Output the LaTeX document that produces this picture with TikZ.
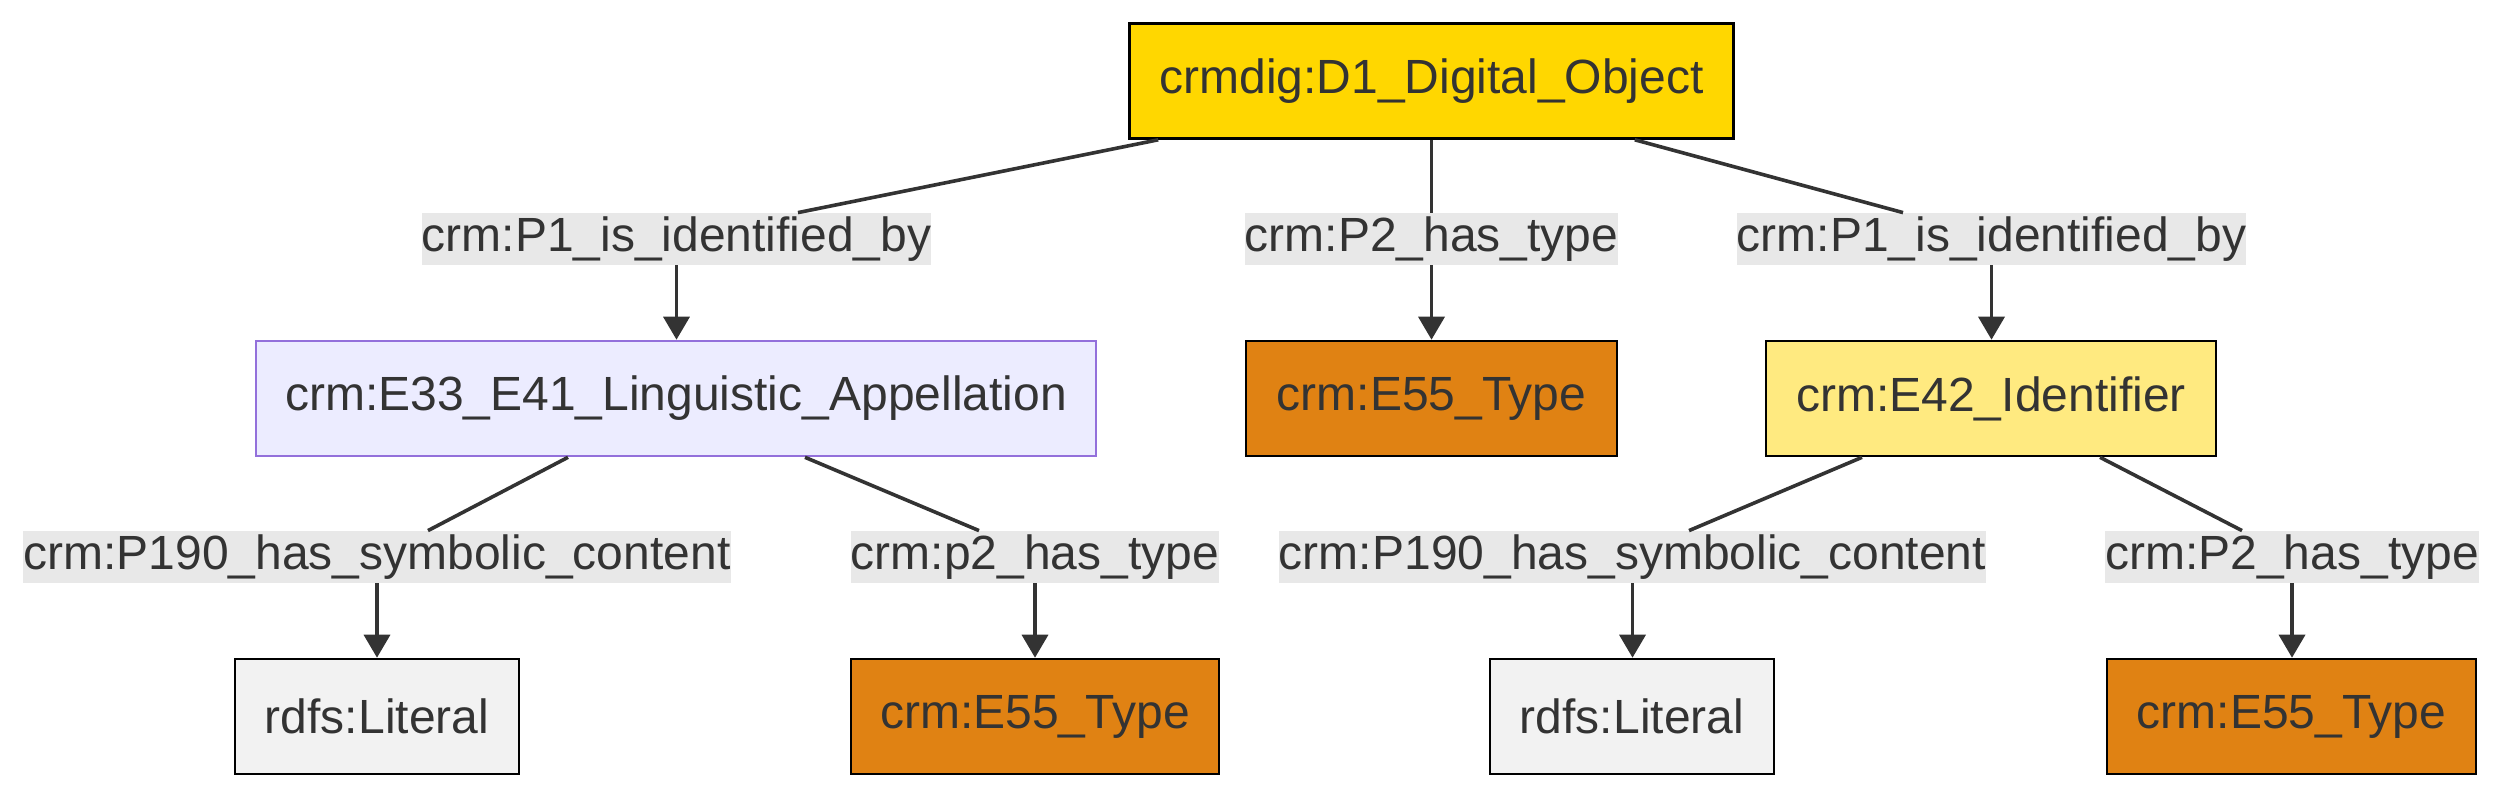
\documentclass[tikz,border=0pt]{standalone}
\usepackage{fontspec}
\setmainfont{Liberation Sans}
\usetikzlibrary{arrows.meta,calc}
\definecolor{txt}{HTML}{333333}
\definecolor{gold}{HTML}{FFD700}
\definecolor{lav}{HTML}{ECECFF}
\definecolor{lavs}{HTML}{9370DB}
\definecolor{typ}{HTML}{E08213}
\definecolor{idf}{HTML}{FFEA80}
\definecolor{lit}{HTML}{F2F2F2}
\definecolor{lbl}{HTML}{E8E8E8}
\begin{document}
\begin{tikzpicture}[x=0.5pt,y=-0.5pt,
  font=\fontsize{24}{28}\selectfont,
  box/.style={draw=black, line width=1.3pt, minimum height=57.5pt, inner sep=0pt, text=txt},
  lab/.style={fill=lbl, inner xsep=0pt, inner ysep=0pt, minimum height=26pt, text=txt},
  edge/.style={draw=txt, line width=1.8pt},
  arr/.style={edge, -{Triangle[length=11.5pt,width=13pt]}}]
\useasboundingbox (0,0) rectangle (2505,798);
\fill[white] (0,0) rectangle (2505,798);

% nodes
\node[box, fill=gold, minimum width=302pt] (top) at (1431.5,81) {crmdig:D1\_Digital\_Object};
\node[box, fill=lav, draw=lavs, minimum width=420pt] (e33) at (676,398.5) {crm:E33\_E41\_Linguistic\_Appellation};
\node[box, fill=typ, minimum width=185.5pt] (e55m) at (1431.5,398.5) {crm:E55\_Type};
\node[box, fill=idf, minimum width=225pt] (e42) at (1991,398.5) {crm:E42\_Identifier};
\node[box, fill=lit, minimum width=142pt] (lit1) at (377,716.5) {rdfs:Literal};
\node[box, fill=typ, minimum width=184pt] (e55a) at (1035,716.5) {crm:E55\_Type};
\node[box, fill=lit, minimum width=142pt] (lit2) at (1632,716.5) {rdfs:Literal};
\node[box, fill=typ, minimum width=184.5pt] (e55b) at (2291.5,716.5) {crm:E55\_Type};

% labels
\node[lab] (l1) at (676.5,239) {crm:P1\_is\_identified\_by};
\node[lab] (l2) at (1431.5,239) {crm:P2\_has\_type};
\node[lab] (l3) at (1991.5,239) {crm:P1\_is\_identified\_by};
\node[lab] (la) at (377,557) {crm:P190\_has\_symbolic\_content};
\node[lab] (lb) at (1035,557) {crm:p2\_has\_type};
\node[lab] (lc) at (1632.5,557) {crm:P190\_has\_symbolic\_content};
\node[lab] (ld) at (2292,557) {crm:P2\_has\_type};

% connectors: parent -> label
\draw[edge] ([xshift=15pt]top.south west) -- ([xshift=60.75pt]l1.north);
\draw[edge] (top.south) -- (l2.north);
\draw[edge] ([xshift=-50pt]top.south east) -- ([xshift=-44.25pt]l3.north);
\draw[edge] ([xshift=-54pt]e33.south) -- ([xshift=25.5pt]la.north);
\draw[edge] ([xshift=64.5pt]e33.south) -- ([xshift=-28pt]lb.north);
\draw[edge] ([xshift=-64.5pt]e42.south) -- ([xshift=28.25pt]lc.north);
\draw[edge] ([xshift=54.5pt]e42.south) -- ([xshift=-25pt]ld.north);

% connectors: label -> child
\draw[arr] (l1.south) -- (l1.south |- e33.north);
\draw[arr] (l2.south) -- (l2.south |- e55m.north);
\draw[arr] (l3.south) -- (l3.south |- e42.north);
\draw[arr] (la.south) -- (la.south |- lit1.north);
\draw[arr] (lb.south) -- (lb.south |- e55a.north);
\draw[arr] (lc.south) -- (lc.south |- lit2.north);
\draw[arr] (ld.south) -- (ld.south |- e55b.north);
\end{tikzpicture}
\end{document}
